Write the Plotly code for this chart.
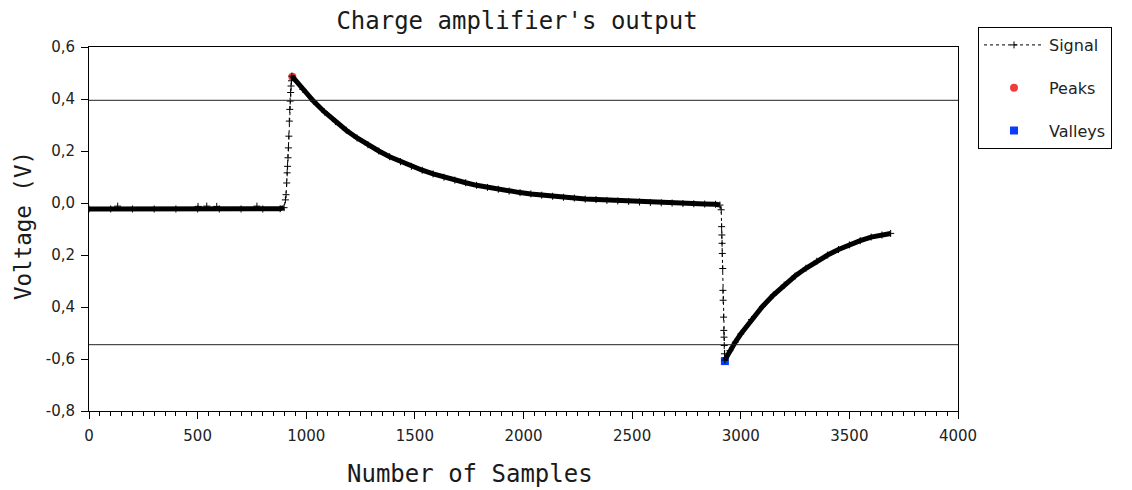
import plotly.graph_objects as go

# ---------------- data ----------------
baseline_x = [0, 100, 200, 300, 400, 500, 600, 700, 800, 880, 898]
baseline_y = [-0.023, -0.023, -0.023, -0.023, -0.023, -0.023, -0.023, -0.023, -0.023, -0.022, -0.018]

noise_x = [132, 502, 542, 588, 773]
noise_y = [-0.012, -0.013, -0.012, -0.013, -0.012]

rise_x = [904, 907, 910, 912, 914, 916, 918, 920, 922, 924, 926, 928, 930, 932]
rise_y = [0.012, 0.032, 0.077, 0.116, 0.141, 0.174, 0.212, 0.257, 0.315, 0.360, 0.392, 0.425, 0.450, 0.470]

decay_x = [934, 984, 1034, 1084, 1134, 1184, 1234, 1284, 1334, 1384, 1434, 1484, 1534,
           1584, 1634, 1684, 1734, 1784, 1834, 1884, 1934, 1984, 2034, 2084, 2134, 2184,
           2234, 2284, 2334, 2384, 2434, 2484, 2534, 2584, 2634, 2684, 2734, 2784, 2834,
           2884, 2904]
decay_y = [0.488, 0.437, 0.391, 0.350, 0.313, 0.280, 0.250, 0.224, 0.200, 0.178, 0.159, 0.141, 0.126,
           0.112, 0.099, 0.088, 0.078, 0.068, 0.060, 0.053, 0.046, 0.040, 0.035, 0.030, 0.026, 0.022,
           0.019, 0.015, 0.013, 0.010, 0.008, 0.006, 0.004, 0.002, 0.001, 0.000, -0.002, -0.003, -0.004,
           -0.005, -0.008]

fall_x = [2910, 2912, 2913, 2914, 2915, 2917, 2918, 2919, 2921, 2922, 2923, 2924, 2925]
fall_y = [-0.026, -0.091, -0.123, -0.155, -0.194, -0.252, -0.336, -0.374, -0.439, -0.490, -0.516, -0.548, -0.580]

recovery_x = [2927, 2950, 2975, 3000, 3050, 3100, 3150, 3200, 3250, 3300, 3350, 3400, 3450,
              3500, 3550, 3600, 3650, 3690]
recovery_y = [-0.604, -0.568, -0.535, -0.504, -0.448, -0.398, -0.354, -0.316, -0.281, -0.251, -0.224,
              -0.200, -0.179, -0.161, -0.145, -0.131, -0.123, -0.117]

peaks_x = [936]
peaks_y = [0.486]
valleys_x = [2927]
valleys_y = [-0.608]

thresholds = [0.395, -0.545]

x_tick_vals = [0, 500, 1000, 1500, 2000, 2500, 3000, 3500, 4000]
x_tick_text = ["0", "500", "1000", "1500", "2000", "2500", "3000", "3500", "4000"]
y_tick_vals = [0.6, 0.4, 0.2, 0.0, -0.2, -0.4, -0.6, -0.8]
y_tick_text = ["0,6", "0,4", "0,2", "0,0", "0,2", "0,4", "-0,6", "-0,8"]

# ---------------- figure ----------------
signal_x = baseline_x + rise_x + decay_x + fall_x + recovery_x
signal_y = baseline_y + rise_y + decay_y + fall_y + recovery_y

fig = go.Figure()

# Peaks / valleys drawn under the signal
fig.add_trace(go.Scatter(x=peaks_x, y=peaks_y, mode="markers", name="Peaks", legendrank=2,
                         legendgroup="p",
                         marker=dict(symbol="circle", size=8, color="#f03c3c"), hoverinfo="skip"))
fig.add_trace(go.Scatter(x=valleys_x, y=valleys_y, mode="markers", name="Valleys", legendrank=3,
                         legendgroup="v",
                         marker=dict(symbol="square", size=8, color="#0a3cff"), hoverinfo="skip"))

# dense parts of the signal render as a thick line
for sx, sy in [(baseline_x, baseline_y), (decay_x, decay_y), (recovery_x, recovery_y)]:
    fig.add_trace(go.Scatter(x=sx, y=sy, mode="lines", showlegend=False, legendgroup="s",
                             line=dict(color="black", width=5), hoverinfo="skip"))

fig.add_trace(go.Scatter(x=noise_x, y=noise_y, mode="markers", showlegend=False, legendgroup="s",
                         marker=dict(symbol="cross-thin", size=5, color="black",
                                     line=dict(color="black", width=1)), hoverinfo="skip"))

fig.add_trace(go.Scatter(x=signal_x, y=signal_y, mode="lines+markers", name="Signal", legendrank=1,
                         legendgroup="s",
                         line=dict(color="black", width=1, dash="dot"),
                         marker=dict(symbol="cross-thin", size=5, color="black",
                                     line=dict(color="black", width=1))))

for t in thresholds:
    fig.add_shape(type="line", xref="paper", x0=0, x1=1, yref="y", y0=t, y1=t,
                  line=dict(color="#222222", width=1))

fig.update_layout(
    width=1132, height=490,
    margin=dict(l=89, r=174, t=47, b=79),
    paper_bgcolor="white", plot_bgcolor="white",
    title=dict(text="Charge amplifier's output", xref="container", x=517 / 1132, xanchor="center",
               yref="container", y=1 - 21 / 490, yanchor="middle",
               font=dict(family="DejaVu Sans Mono", size=24, color="#1a1a1a")),
    legend=dict(x=(978 - 89) / 869, xanchor="left", y=(411 - 27) / 364, yanchor="top",
                bgcolor="white", bordercolor="black", borderwidth=1,
                font=dict(family="DejaVu Sans", size=16, color="#222222"),
                tracegroupgap=19, itemwidth=60),
    annotations=[
        dict(text="Number of Samples", xref="paper", yref="paper", x=(470 - 89) / 869,
             y=(411 - 474) / 364, xanchor="center", yanchor="middle", showarrow=False,
             font=dict(family="DejaVu Sans Mono", size=24, color="#1a1a1a")),
        dict(text="Voltage (V)", xref="paper", yref="paper", x=(23 - 89) / 869,
             y=(411 - 226) / 364, xanchor="center", yanchor="middle", showarrow=False,
             textangle=-90, font=dict(family="DejaVu Sans Mono", size=22.5, color="#1a1a1a")),
    ],
)

fig.update_xaxes(range=[0, 4000], tickvals=x_tick_vals, ticktext=x_tick_text,
                 showgrid=False, zeroline=False, showline=True, mirror=True,
                 linecolor="black", linewidth=1, ticks="outside", ticklen=7,
                 tickcolor="black", ticklabelstandoff=4,
                 minor=dict(dtick=50, tick0=0, ticks="outside", ticklen=4, tickcolor="black",
                            showgrid=False),
                 tickfont=dict(family="DejaVu Sans", size=15, color="#222222"))
fig.update_yaxes(range=[-0.8, 0.6], tickvals=y_tick_vals, ticktext=y_tick_text,
                 showgrid=False, zeroline=False, showline=True, mirror=True,
                 linecolor="black", linewidth=1, ticks="outside", ticklen=7,
                 tickcolor="black", ticklabelstandoff=3,
                 tickfont=dict(family="DejaVu Sans", size=15, color="#222222"))

fig.write_html("out.html")
